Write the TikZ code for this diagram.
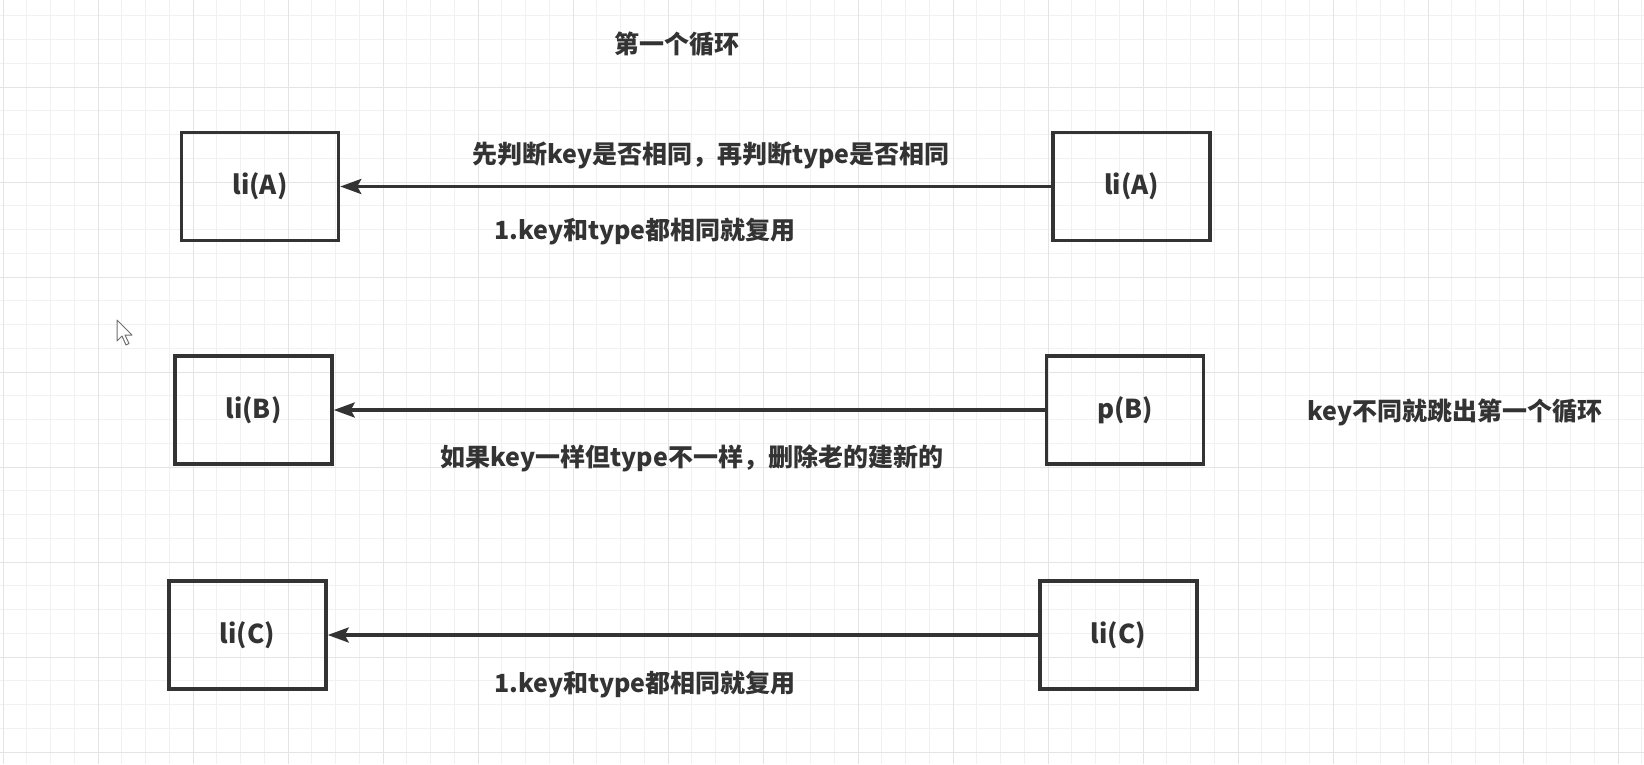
\documentclass[tikz,border=0pt]{standalone}
\usepackage{fontspec}
\setmainfont{Noto Sans CJK SC}
\usetikzlibrary{arrows.meta}

\definecolor{ink}{HTML}{333333}
\definecolor{gridminor}{HTML}{F1F1F1}
\definecolor{gridmajor}{HTML}{E4E4E4}

\tikzset{
  elem/.style={draw=ink, line width=3.5pt, minimum width=157pt, minimum height=108pt,
    inner sep=0pt, text=ink, font=\bfseries\fontsize{26}{31}\selectfont},
  note/.style={inner sep=0pt, text=ink, font=\bfseries\fontsize{25}{30}\selectfont},
  patch/.style={draw=ink, line width=3.5pt, -{Stealth[length=21pt,width=15pt,inset=4pt]}},
}

\begin{document}
\begin{tikzpicture}[x=1pt,y=-1pt]
\fill[white] (0,0) rectangle (1644,764);
\useasboundingbox (0,0) rectangle (1644,764);
% grid paper
\foreach \gx in {0,...,69}
  \draw[gridminor, line width=1pt] ({3+23.75*\gx},0) -- ++(0,764);
\foreach \gy in {0,...,31}
  \draw[gridminor, line width=1pt] (0,{15.75+23.75*\gy}) -- ++(1644,0);
\foreach \gx in {0,...,17}
  \draw[gridmajor, line width=1pt] ({3+95*\gx},0) -- ++(0,764);
\foreach \gy in {0,...,8}
  \draw[gridmajor, line width=1pt] (0,{-8+95*\gy}) -- ++(1644,0);

% old list (left) and new list (right)
\node[elem] (oldA) at (260,186.5) {li(A)};
\node[elem] (newA) at (1131.5,186.5) {li(A)};
\node[elem] (oldB) at (253.5,410) {li(B)};
\node[elem] (newB) at (1125,410) {p(B)};
\node[elem] (oldC) at (247.5,635) {li(C)};
\node[elem] (newC) at (1118.5,635) {li(C)};

\draw[patch] (newA) -- (oldA);
\draw[patch] (newB) -- (oldB);
\draw[patch] (newC) -- (oldC);

\node[note] (loop) at (677,44) {第一个循环};
\node[note] (askA) at (711,155) {先判断key是否相同，再判断type是否相同};
\node[note] (reuseA) at (645,232) {1.key和type都相同就复用};
\node[note] (replaceB) at (692,458) {如果key一样但type不一样，删除老的建新的};
\node[note] (breakB) at (1455,412) {key不同就跳出第一个循环};
\node[note] (reuseC) at (645,685) {1.key和type都相同就复用};

% mouse pointer
\draw[ink!70, line width=1pt, fill=white, line join=round]
  (117,320) -- ++(0,21) -- ++(5,-5) -- ++(4,9) -- ++(3,-1.5) -- ++(-4,-8.5) -- ++(7,0) -- cycle;
\end{tikzpicture}
\end{document}
